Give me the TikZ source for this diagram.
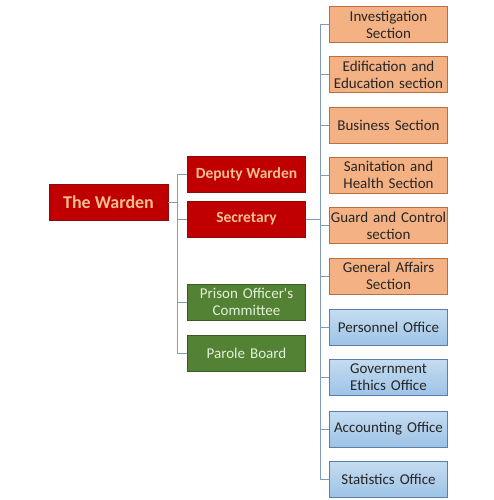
\documentclass[tikz,border=0pt]{standalone}
\usepackage{fontspec}
\setmainfont{Carlito}
\usetikzlibrary{positioning}
\definecolor{redfill}{HTML}{C00000}
\definecolor{redline}{HTML}{8E0B0B}
\definecolor{redtext}{HTML}{F8BE92}
\definecolor{orfill}{HTML}{F4B183}
\definecolor{orline}{HTML}{B8713E}
\definecolor{bluetop}{HTML}{C5DCF1}
\definecolor{bluebot}{HTML}{9DC3E6}
\definecolor{blueline}{HTML}{5B7FA8}
\definecolor{grfill}{HTML}{548235}
\definecolor{grline}{HTML}{3A5A24}
\definecolor{grtext}{HTML}{E2F0D9}
\definecolor{conn}{HTML}{7F9CBA}
\begin{document}
\begin{tikzpicture}[x=1pt,y=-1pt,
  box/.style={draw, line width=0.8pt, minimum height=36pt, inner sep=1pt, align=center,
    font=\fontsize{15}{17}\selectfont},
  redbox/.style={box, fill=redfill, draw=redline, text=redtext, minimum width=118pt,
    font=\fontsize{15.5}{17}\selectfont\bfseries},
  orbox/.style={box, fill=orfill, draw=orline, text=black!85, minimum width=118pt, text width=116pt},
  bluebox/.style={box, top color=bluetop, bottom color=bluebot, draw=blueline, text=black!85,
    minimum width=118pt, text width=116pt},
  grbox/.style={box, fill=grfill, draw=grline, text=grtext, minimum width=118pt, text width=116pt},
  conline/.style={draw=conn, line width=0.9pt}]
\useasboundingbox (0,0) rectangle (494,500);
\coordinate (lbus) at (177,0);
\coordinate (rbus) at (320,0);
% left
\node[redbox, minimum width=119pt, font=\fontsize{18}{20}\selectfont\bfseries] (w) at (108.5,202) {The Warden};
\node[redbox] (d) at (246.5,174) {Deputy Warden};
\node[redbox] (s) at (246.5,219) {Secretary};
\node[grbox] (po) at (246.5,302) {Prison Officer\textquotesingle s\\Committee};
\node[grbox] (pb) at (246.5,353) {Parole Board};
% right
\node[orbox] (r1) at (388.5,24.5) {Investigation\\Section};
\node[orbox] (r2) at (388.5,74.5) {Edification and\\Education section};
\node[orbox] (r3) at (388.5,125) {Business Section};
\node[orbox] (r4) at (388.5,175) {Sanitation and\\Health Section};
\node[orbox] (r5) at (388.5,225.5) {Guard and Control\\section};
\node[orbox] (r6) at (388.5,276) {General Affairs\\Section};
\node[bluebox] (r7) at (388.5,327.5) {Personnel Office};
\node[bluebox] (r8) at (388.5,377.5) {Government\\Ethics Office};
\node[bluebox] (r9) at (388.5,429) {Accounting Office};
\node[bluebox] (r10) at (388.5,479.5) {Statistics Office};
% left connectors
\draw[conline] (w.east) -- (w.east -| lbus);
\draw[conline] (d.west -| lbus) -- (pb.west -| lbus);
\foreach \n in {d,s,po,pb} \draw[conline] (\n.west -| lbus) -- (\n.west);
% right connectors
\draw[conline] (s.east) -- (s.east -| rbus);
\draw[conline] (r1.west -| rbus) -- (r10.west -| rbus);
\foreach \n in {r1,r2,r3,r4,r5,r6,r7,r8,r9,r10} \draw[conline] (\n.west -| rbus) -- (\n.west);
\end{tikzpicture}
\end{document}
